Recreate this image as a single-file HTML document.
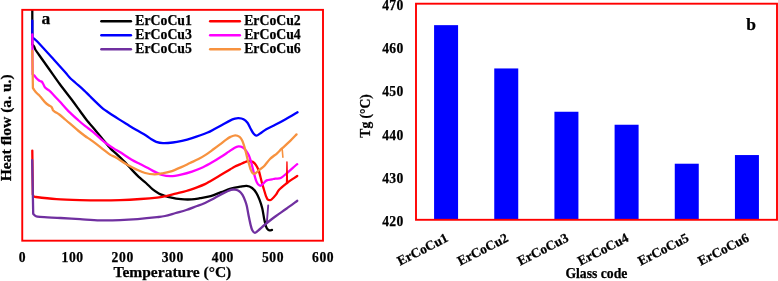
<!DOCTYPE html>
<html><head><meta charset="utf-8"><style>
html,body{margin:0;padding:0;background:#fff;width:778px;height:281px;overflow:hidden}
svg{display:block;will-change:transform}
text{font-family:"Liberation Serif", serif;font-weight:bold;fill:#000;stroke:#000;stroke-width:0.25px}
</style></head><body>
<svg width="778" height="281" viewBox="0 0 778 281">
<defs><clipPath id="ca"><rect x="22.5" y="9.5" width="300" height="231"/></clipPath></defs>
<g clip-path="url(#ca)" fill="none" stroke-width="2.3" stroke-linejoin="round" stroke-linecap="round">
<path d="M32.30,8.50 C32.30,14.50 32.30,38.50 32.30,44.50 C32.60,44.85 33.60,45.77 34.10,46.60 C34.60,47.43 34.47,48.10 35.30,49.50 C36.13,50.90 36.87,51.83 39.10,55.00 C41.33,58.17 45.23,63.62 48.70,68.50 C52.17,73.38 56.12,79.17 59.90,84.30 C63.68,89.43 68.05,94.85 71.40,99.30 C74.75,103.75 77.47,107.55 80.00,111.00 C82.53,114.45 83.98,116.72 86.60,120.00 C89.22,123.28 92.95,127.42 95.70,130.70 C98.45,133.98 100.62,136.72 103.10,139.70 C105.58,142.68 108.38,146.25 110.60,148.60 C112.82,150.95 114.02,151.55 116.40,153.80 C118.78,156.05 122.42,159.53 124.90,162.10 C127.38,164.67 129.03,166.78 131.30,169.20 C133.57,171.62 136.05,174.30 138.50,176.60 C140.95,178.90 143.68,180.92 146.00,183.00 C148.32,185.08 150.27,187.37 152.40,189.10 C154.53,190.83 156.85,192.33 158.80,193.40 C160.75,194.47 162.18,194.83 164.10,195.50 C166.02,196.17 167.48,196.78 170.30,197.40 C173.12,198.02 177.43,198.87 181.00,199.20 C184.57,199.53 188.53,199.57 191.70,199.40 C194.87,199.23 196.83,198.75 200.00,198.20 C203.17,197.65 207.15,197.12 210.70,196.10 C214.25,195.08 218.10,193.30 221.30,192.10 C224.50,190.90 227.62,189.63 229.90,188.90 C232.18,188.17 233.27,188.07 235.00,187.70 C236.73,187.33 238.35,187.00 240.30,186.70 C242.25,186.40 244.73,185.68 246.70,185.90 C248.67,186.12 250.50,186.85 252.10,188.00 C253.70,189.15 255.07,190.87 256.30,192.80 C257.53,194.73 258.50,196.98 259.50,199.60 C260.50,202.22 261.50,205.18 262.30,208.50 C263.10,211.82 263.68,216.53 264.30,219.50 C264.92,222.47 265.45,224.68 266.00,226.30 C266.55,227.92 267.02,228.52 267.60,229.20 C268.18,229.88 268.77,230.28 269.50,230.40 C270.23,230.52 271.58,229.98 272.00,229.90" stroke="#000000"/>
<path d="M32.30,150.60 C32.38,157.92 32.72,187.18 32.80,194.50 C32.97,194.80 33.27,195.88 33.80,196.30 C34.33,196.72 32.22,196.53 36.00,197.00 C39.78,197.47 49.17,198.58 56.50,199.10 C63.83,199.62 72.58,199.88 80.00,200.10 C87.42,200.32 94.33,200.40 101.00,200.40 C107.67,200.40 113.38,200.33 120.00,200.10 C126.62,199.87 134.53,199.42 140.70,199.00 C146.87,198.58 152.95,198.05 157.00,197.60 C161.05,197.15 161.88,196.95 165.00,196.30 C168.12,195.65 172.15,194.58 175.70,193.70 C179.25,192.82 182.75,192.07 186.30,191.00 C189.85,189.93 193.88,188.45 197.00,187.30 C200.12,186.15 202.72,185.17 205.00,184.10 C207.28,183.03 208.23,182.32 210.70,180.90 C213.17,179.48 216.58,177.50 219.80,175.60 C223.02,173.70 227.47,171.00 230.00,169.50 C232.53,168.00 233.33,167.45 235.00,166.60 C236.67,165.75 238.45,165.10 240.00,164.40 C241.55,163.70 242.97,162.95 244.30,162.40 C245.63,161.85 246.58,161.18 248.00,161.10 C249.42,161.02 251.47,161.23 252.80,161.90 C254.13,162.57 255.02,163.67 256.00,165.10 C256.98,166.53 257.98,168.63 258.70,170.50 C259.42,172.37 259.77,174.27 260.30,176.30 C260.83,178.33 261.32,180.58 261.90,182.70 C262.48,184.82 263.13,186.82 263.80,189.00 C264.47,191.18 265.25,194.07 265.90,195.80 C266.55,197.53 267.07,198.67 267.70,199.40 C268.33,200.13 269.07,200.18 269.70,200.20 C270.33,200.22 270.45,200.43 271.50,199.50 C272.55,198.57 274.73,196.22 276.00,194.60 C277.27,192.98 277.25,191.73 279.10,189.80 C280.95,187.87 284.95,184.73 287.10,183.00 C289.25,181.27 290.32,180.57 292.00,179.40 C293.68,178.23 296.33,176.57 297.20,176.00" stroke="#FF0000"/>
<path d="M32.30,20.60 C32.30,23.33 32.30,34.27 32.30,37.00 C32.52,37.22 32.73,37.50 33.60,38.30 C34.47,39.10 34.18,38.30 37.50,41.80 C40.82,45.30 48.92,54.25 53.50,59.30 C58.08,64.35 62.20,68.95 65.00,72.10 C67.80,75.25 68.52,76.38 70.30,78.20 C72.08,80.02 73.42,80.98 75.70,83.00 C77.98,85.02 81.62,88.08 84.00,90.30 C86.38,92.52 87.22,93.58 90.00,96.30 C92.78,99.02 98.03,104.18 100.70,106.60 C103.37,109.02 102.93,108.67 106.00,110.80 C109.07,112.93 115.52,117.10 119.10,119.40 C122.68,121.70 124.68,122.87 127.50,124.60 C130.32,126.33 132.92,127.98 136.00,129.80 C139.08,131.62 143.50,133.97 146.00,135.50 C148.50,137.03 149.30,137.95 151.00,139.00 C152.70,140.05 154.20,141.12 156.20,141.80 C158.20,142.48 160.23,142.98 163.00,143.10 C165.77,143.22 169.63,142.88 172.80,142.50 C175.97,142.12 178.80,141.53 182.00,140.80 C185.20,140.07 187.83,139.43 192.00,138.10 C196.17,136.77 203.17,134.37 207.00,132.80 C210.83,131.23 212.50,130.00 215.00,128.70 C217.50,127.40 219.50,126.35 222.00,125.00 C224.50,123.65 227.83,121.65 230.00,120.60 C232.17,119.55 233.58,119.10 235.00,118.70 C236.42,118.30 237.08,118.12 238.50,118.20 C239.92,118.28 242.00,118.43 243.50,119.20 C245.00,119.97 246.33,121.25 247.50,122.80 C248.67,124.35 249.50,126.70 250.50,128.50 C251.50,130.30 252.50,132.42 253.50,133.60 C254.50,134.78 255.33,135.65 256.50,135.60 C257.67,135.55 258.87,134.37 260.50,133.30 C262.13,132.23 263.77,130.65 266.30,129.20 C268.83,127.75 272.48,126.27 275.70,124.60 C278.92,122.93 281.97,121.25 285.60,119.20 C289.23,117.15 295.52,113.45 297.50,112.30" stroke="#0000FF"/>
<path d="M32.30,34.30 C32.35,40.97 32.55,67.63 32.60,74.30 C32.88,74.52 33.65,74.93 34.30,75.60 C34.95,76.27 35.77,77.52 36.50,78.30 C37.23,79.08 38.03,79.82 38.70,80.30 C39.37,80.78 39.95,80.93 40.50,81.20 C41.05,81.47 41.52,81.38 42.00,81.90 C42.48,82.42 42.88,83.37 43.40,84.30 C43.92,85.23 44.22,86.52 45.10,87.50 C45.98,88.48 47.40,89.08 48.70,90.20 C50.00,91.32 51.02,92.27 52.90,94.20 C54.78,96.13 57.42,98.98 60.00,101.80 C62.58,104.62 65.30,107.98 68.40,111.10 C71.50,114.22 75.83,118.03 78.60,120.50 C81.37,122.97 82.52,123.93 85.00,125.90 C87.48,127.87 90.65,129.93 93.50,132.30 C96.35,134.67 99.60,137.98 102.10,140.10 C104.60,142.22 106.52,143.58 108.50,145.00 C110.48,146.42 111.97,147.33 114.00,148.60 C116.03,149.87 117.82,150.80 120.70,152.60 C123.58,154.40 128.08,157.50 131.30,159.40 C134.52,161.30 137.22,162.57 140.00,164.00 C142.78,165.43 145.58,166.73 148.00,168.00 C150.42,169.27 152.17,170.43 154.50,171.60 C156.83,172.77 159.30,174.23 162.00,175.00 C164.70,175.77 167.53,176.27 170.70,176.20 C173.87,176.13 177.45,175.37 181.00,174.60 C184.55,173.83 188.33,172.82 192.00,171.60 C195.67,170.38 199.43,168.97 203.00,167.30 C206.57,165.63 210.23,163.45 213.40,161.60 C216.57,159.75 219.50,157.82 222.00,156.20 C224.50,154.58 226.35,153.28 228.40,151.90 C230.45,150.52 232.62,148.82 234.30,147.90 C235.98,146.98 237.08,146.48 238.50,146.40 C239.92,146.32 241.55,146.70 242.80,147.40 C244.05,148.10 245.02,149.32 246.00,150.60 C246.98,151.88 247.98,153.65 248.70,155.10 C249.42,156.55 249.78,157.73 250.30,159.30 C250.82,160.87 251.20,162.20 251.80,164.50 C252.40,166.80 253.20,170.45 253.90,173.10 C254.60,175.75 255.32,178.53 256.00,180.40 C256.68,182.27 257.23,183.42 258.00,184.30 C258.77,185.18 259.68,185.87 260.60,185.70 C261.52,185.53 262.48,184.18 263.50,183.30 C264.52,182.42 265.28,181.07 266.70,180.40 C268.12,179.73 270.57,179.60 272.00,179.30 C273.43,179.00 273.85,178.82 275.30,178.60 C276.75,178.38 278.73,178.93 280.70,178.00 C282.67,177.07 284.72,175.00 287.10,173.00 C289.48,171.00 293.32,167.47 295.00,166.00 C296.68,164.53 296.83,164.50 297.20,164.20" stroke="#FF00FF"/>
<path d="M32.20,160.20 C32.37,169.13 33.03,204.87 33.20,213.80 C33.60,214.17 34.47,215.48 35.60,216.00 C36.73,216.52 35.83,216.57 40.00,216.90 C44.17,217.23 53.93,217.62 60.60,218.00 C67.27,218.38 73.43,218.82 80.00,219.20 C86.57,219.58 93.33,220.15 100.00,220.30 C106.67,220.45 113.72,220.30 120.00,220.10 C126.28,219.90 131.53,219.58 137.70,219.10 C143.87,218.62 152.45,217.72 157.00,217.20 C161.55,216.68 161.88,216.70 165.00,216.00 C168.12,215.30 172.15,214.00 175.70,213.00 C179.25,212.00 182.75,211.17 186.30,210.00 C189.85,208.83 194.18,207.03 197.00,206.00 C199.82,204.97 200.38,205.07 203.20,203.80 C206.02,202.53 210.52,200.18 213.90,198.40 C217.28,196.62 220.67,194.53 223.50,193.10 C226.33,191.67 228.95,190.37 230.90,189.80 C232.85,189.23 233.80,189.47 235.20,189.70 C236.60,189.93 238.08,190.33 239.30,191.20 C240.52,192.07 241.52,193.30 242.50,194.90 C243.48,196.50 244.48,198.95 245.20,200.80 C245.92,202.65 246.25,203.63 246.80,206.00 C247.35,208.37 247.88,211.92 248.50,215.00 C249.12,218.08 249.87,221.95 250.50,224.50 C251.13,227.05 251.57,228.92 252.30,230.30 C253.03,231.68 253.93,232.75 254.90,232.80 C255.87,232.85 256.50,231.90 258.10,230.60 C259.70,229.30 262.52,226.68 264.50,225.00 C266.48,223.32 268.08,222.00 270.00,220.50 C271.92,219.00 273.22,218.00 276.00,216.00 C278.78,214.00 283.15,211.03 286.70,208.50 C290.25,205.97 295.53,202.08 297.30,200.80" stroke="#7030A0"/>
<path d="M32.30,50.80 C32.40,57.00 32.80,81.80 32.90,88.00 C33.12,88.33 33.62,89.20 34.20,90.00 C34.78,90.80 35.62,91.97 36.40,92.80 C37.18,93.63 38.18,94.28 38.90,95.00 C39.62,95.72 39.70,95.92 40.70,97.10 C41.70,98.28 43.57,100.73 44.90,102.10 C46.23,103.47 47.65,104.55 48.70,105.30 C49.75,106.05 50.58,106.05 51.20,106.60 C51.82,107.15 52.07,107.93 52.40,108.60 C52.73,109.27 52.67,110.00 53.20,110.60 C53.73,111.20 54.58,111.55 55.60,112.20 C56.62,112.85 57.60,113.20 59.30,114.50 C61.00,115.80 62.68,117.33 65.80,120.00 C68.92,122.67 74.80,127.83 78.00,130.50 C81.20,133.17 82.77,134.35 85.00,136.00 C87.23,137.65 88.38,138.18 91.40,140.40 C94.42,142.62 100.00,146.93 103.10,149.30 C106.20,151.67 107.78,153.18 110.00,154.60 C112.22,156.02 113.73,156.23 116.40,157.80 C119.07,159.37 122.62,162.03 126.00,164.00 C129.38,165.97 133.50,168.10 136.70,169.60 C139.90,171.10 142.23,172.22 145.20,173.00 C148.17,173.78 151.70,174.23 154.50,174.30 C157.30,174.37 159.42,173.83 162.00,173.40 C164.58,172.97 166.77,172.75 170.00,171.70 C173.23,170.65 178.07,168.55 181.40,167.10 C184.73,165.65 187.15,164.35 190.00,163.00 C192.85,161.65 195.83,160.40 198.50,159.00 C201.17,157.60 203.52,156.22 206.00,154.60 C208.48,152.98 211.07,151.00 213.40,149.30 C215.73,147.60 217.87,146.02 220.00,144.40 C222.13,142.78 224.45,140.85 226.20,139.60 C227.95,138.35 228.98,137.62 230.50,136.90 C232.02,136.18 233.78,135.30 235.30,135.30 C236.82,135.30 238.43,136.00 239.60,136.90 C240.77,137.80 241.50,139.05 242.30,140.70 C243.10,142.35 243.78,144.82 244.40,146.80 C245.02,148.78 245.47,150.48 246.00,152.60 C246.53,154.72 247.08,157.57 247.60,159.50 C248.12,161.43 248.58,162.52 249.10,164.20 C249.62,165.88 250.08,168.07 250.70,169.60 C251.32,171.13 252.00,172.80 252.80,173.40 C253.60,174.00 254.43,173.78 255.50,173.20 C256.57,172.62 257.78,171.07 259.20,169.90 C260.62,168.73 262.20,168.02 264.00,166.20 C265.80,164.38 267.82,161.15 270.00,159.00 C272.18,156.85 275.15,155.02 277.10,153.30 C279.05,151.58 279.55,150.73 281.70,148.70 C283.85,146.67 287.53,143.48 290.00,141.10 C292.47,138.72 295.42,135.52 296.50,134.40" stroke="#F7923F"/>
<polyline points="286.5,183 286.95,161.8 287.5,183" stroke="#FF0000" stroke-width="1.3"/>
<polyline points="266.8,223 268.2,205.5" stroke="#7030A0" stroke-width="1.9"/>
<polyline points="282.2,149 282.9,157.3" stroke="#F7923F" stroke-width="1.6"/>
</g>
<rect x="22.25" y="9.85" width="300.75" height="230.85" fill="none" stroke="#FF0000" stroke-width="1.9"/>
<text x="41.5" y="23.5" font-size="17.5">a</text>
<g font-size="13.75">
<line x1="101.4" y1="21.35" x2="130.9" y2="21.35" stroke="#000000" stroke-width="2.5" stroke-linecap="round"/>
<text x="135.3" y="25.1">ErCoCu1</text>
<line x1="210.2" y1="21.35" x2="239.8" y2="21.35" stroke="#FF0000" stroke-width="2.5" stroke-linecap="round"/>
<text x="244.2" y="25.1">ErCoCu2</text>
<line x1="101.4" y1="35.35" x2="130.9" y2="35.35" stroke="#0000FF" stroke-width="2.5" stroke-linecap="round"/>
<text x="135.3" y="39.1">ErCoCu3</text>
<line x1="210.2" y1="35.35" x2="239.8" y2="35.35" stroke="#FF00FF" stroke-width="2.5" stroke-linecap="round"/>
<text x="244.2" y="39.1">ErCoCu4</text>
<line x1="101.4" y1="49.35" x2="130.9" y2="49.35" stroke="#7030A0" stroke-width="2.5" stroke-linecap="round"/>
<text x="135.3" y="53.1">ErCoCu5</text>
<line x1="210.2" y1="49.35" x2="239.8" y2="49.35" stroke="#F7923F" stroke-width="2.5" stroke-linecap="round"/>
<text x="244.2" y="53.1">ErCoCu6</text>
</g>
<g font-size="13.6" letter-spacing="0.6">
<text x="22.50" y="261.8" text-anchor="middle">0</text>
<text x="72.60" y="261.8" text-anchor="middle">100</text>
<text x="122.70" y="261.8" text-anchor="middle">200</text>
<text x="172.80" y="261.8" text-anchor="middle">300</text>
<text x="222.90" y="261.8" text-anchor="middle">400</text>
<text x="273.00" y="261.8" text-anchor="middle">500</text>
<text x="323.10" y="261.8" text-anchor="middle">600</text>
</g>
<text x="172.4" y="276.7" font-size="15.5" text-anchor="middle">Temperature (°C)</text>
<text transform="translate(10.7,127.8) rotate(-90)" font-size="15.6" text-anchor="middle">Heat flow (a. u.)</text>
<rect x="434.08" y="25.15" width="24" height="194.85" fill="#0000FF"/>
<rect x="494.25" y="68.45" width="24" height="151.55" fill="#0000FF"/>
<rect x="554.42" y="111.75" width="24" height="108.25" fill="#0000FF"/>
<rect x="614.60" y="124.74" width="24" height="95.26" fill="#0000FF"/>
<rect x="674.76" y="163.71" width="24" height="56.29" fill="#0000FF"/>
<rect x="734.93" y="155.05" width="24" height="64.95" fill="#0000FF"/>
<rect x="416" y="3.7" width="361" height="216.1" fill="none" stroke="#FF0000" stroke-width="1.9"/>
<text x="746.3" y="29.8" font-size="17.5">b</text>
<g font-size="13.6" letter-spacing="0.35">
<text x="403.6" y="9.6" text-anchor="end">470</text>
<text x="403.6" y="52.9" text-anchor="end">460</text>
<text x="403.6" y="96.2" text-anchor="end">450</text>
<text x="403.6" y="139.6" text-anchor="end">440</text>
<text x="403.6" y="182.9" text-anchor="end">430</text>
<text x="403.6" y="226.3" text-anchor="end">420</text>
</g>
<g font-size="13.4">
<text transform="translate(449.085,240.8) rotate(-27)" text-anchor="end">ErCoCu1</text>
<text transform="translate(509.255,240.8) rotate(-27)" text-anchor="end">ErCoCu2</text>
<text transform="translate(569.425,240.8) rotate(-27)" text-anchor="end">ErCoCu3</text>
<text transform="translate(629.595,240.8) rotate(-27)" text-anchor="end">ErCoCu4</text>
<text transform="translate(689.765,240.8) rotate(-27)" text-anchor="end">ErCoCu5</text>
<text transform="translate(749.935,240.8) rotate(-27)" text-anchor="end">ErCoCu6</text>
</g>
<text x="596.4" y="277.7" font-size="13.7" text-anchor="middle">Glass code</text>
<text transform="translate(370,115.9) rotate(-90)" font-size="13.6" text-anchor="middle">Tg (°C)</text>
</svg>
</body></html>
